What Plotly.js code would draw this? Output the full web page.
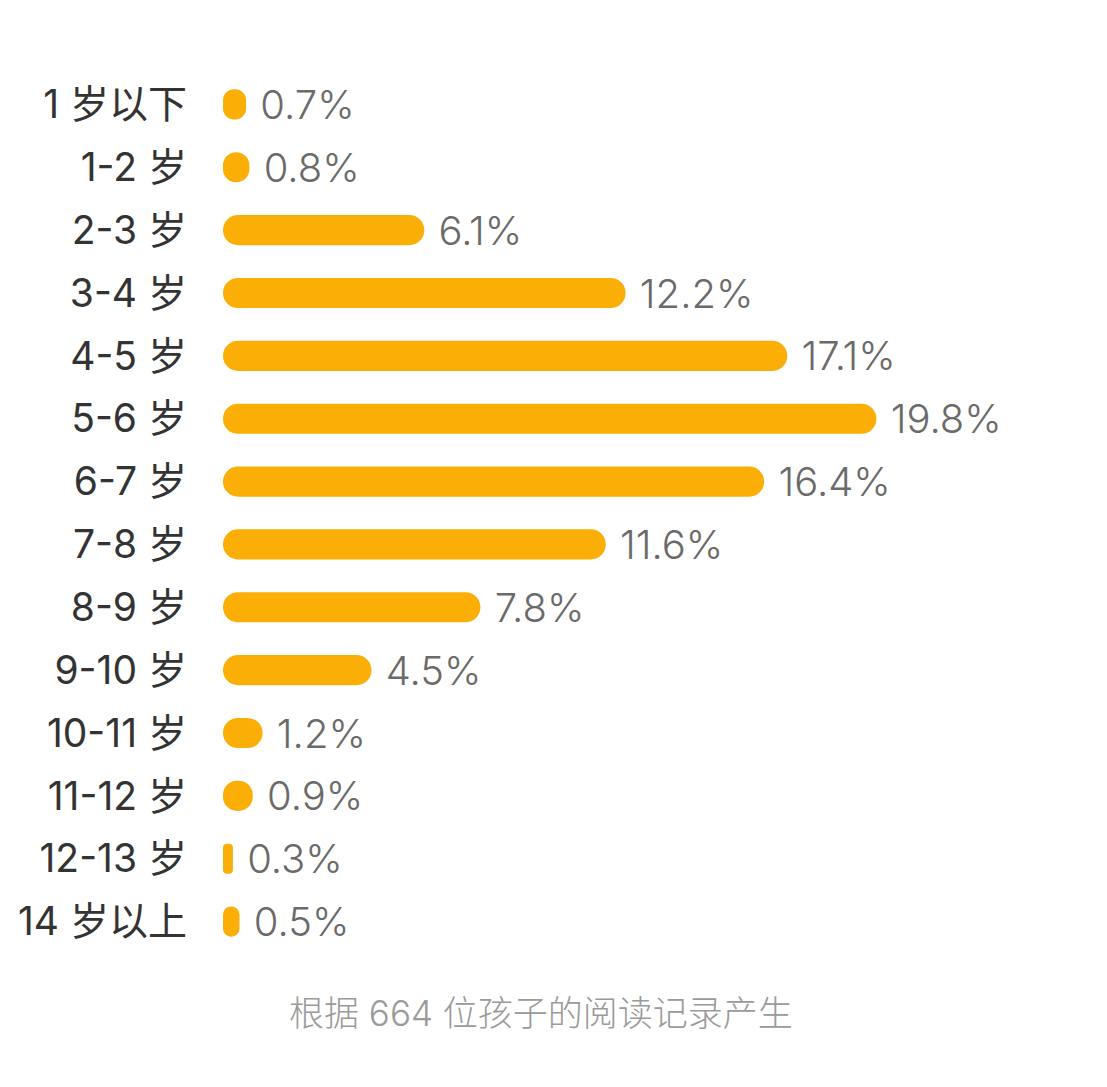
<!DOCTYPE html>
<html><head><meta charset="utf-8">
<script src="https://cdn.plot.ly/plotly-3.0.1.min.js"></script>
<style>html,body{margin:0;padding:0;background:#fff;}#chart{width:1107px;height:1087px;}</style>
</head><body><div id="chart"></div>
<script>
const categories = ["1 岁以下","1-2 岁","2-3 岁","3-4 岁","4-5 岁","5-6 岁","6-7 岁","7-8 岁","8-9 岁","9-10 岁","10-11 岁","11-12 岁","12-13 岁","14 岁以上"];
const percents = [0.7,0.8,6.1,12.2,17.1,19.8,16.4,11.6,7.8,4.5,1.2,0.9,0.3,0.5];
const footnote = "根据 664 位孩子的阅读记录产生";
const FONT = "Inter, 'Noto Sans CJK SC', sans-serif";
const BAR_COLOR = '#FBAE06';

const trace = {
  type: 'bar', orientation: 'h',
  x: percents, base: percents.map(() => 0), y: categories,
  marker: {color: BAR_COLOR, line: {width: 0}},
  text: percents.map(v => '\u00A0' + v.toFixed(1) + '%'),
  textposition: 'outside',
  constraintext: 'none',
  cliponaxis: false,
  textfont: {family: FONT, size: 40, color: '#6a6a6a', weight: 300},
  hoverinfo: 'skip'
};
const plotW = 1107 - 223 - 59, plotH = 1087 - 73 - 134;
const layout = {
  width: 1107, height: 1087,
  margin: {l: 223, r: 59, t: 73, b: 134},
  paper_bgcolor: '#fff', plot_bgcolor: '#fff',
  bargap: 0.52,
  barcornerradius: 15,
  showlegend: false,
  font: {family: FONT},
  xaxis: {range: [0, 25], visible: false, fixedrange: true},
  yaxis: {autorange: 'reversed', showgrid: false, zeroline: false, showline: false,
          ticks: '', ticklabelstandoff: 35,
          tickfont: {family: FONT, size: 39, color: '#333333'}},
  annotations: [{text: footnote, xref: 'paper', yref: 'paper',
    x: (541 - 223) / plotW, y: -(1013 - (1087 - 134)) / plotH,
    xanchor: 'center', yanchor: 'middle', showarrow: false,
    font: {family: FONT, size: 35, color: '#9a9a9a', weight: 300}}]
};
Plotly.newPlot('chart', [trace], layout, {displayModeBar: false, staticPlot: true});
</script></body></html>
